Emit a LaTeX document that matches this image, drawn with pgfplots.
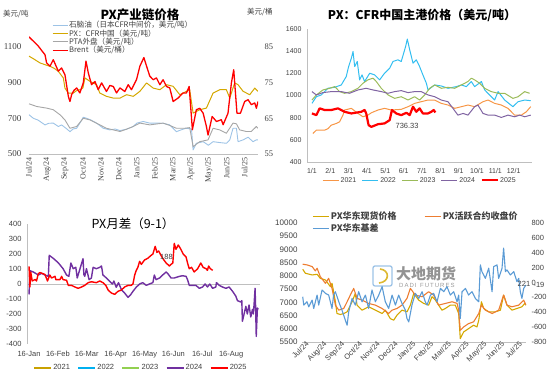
\documentclass[border=0pt]{standalone}
\usepackage{pgfplots}
\pgfplotsset{compat=1.18}
\usepackage{fontspec}
\setmainfont{Liberation Sans}
\newfontfamily\cjk{Noto Sans CJK SC}
\newfontfamily\lserif{Liberation Serif}
\definecolor{naph}{RGB}{157,195,230}
\definecolor{pxg}{RGB}{212,168,0}
\definecolor{pta}{RGB}{166,166,166}
\definecolor{c21}{RGB}{247,150,70}
\definecolor{c22}{RGB}{51,190,240}
\definecolor{c23}{RGB}{155,187,89}
\definecolor{c24}{RGB}{128,100,162}
\definecolor{d21}{RGB}{201,161,0}
\definecolor{d22}{RGB}{0,176,240}
\definecolor{d23}{RGB}{146,208,80}
\definecolor{d24}{RGB}{112,48,160}
\definecolor{spot}{RGB}{212,168,0}
\definecolor{fut}{RGB}{237,125,49}
\definecolor{basis}{RGB}{91,155,213}
\definecolor{axgray}{RGB}{191,191,191}
\definecolor{txt}{RGB}{64,64,64}
\pgfplotsset{
  every axis/.append style={scale only axis, anchor=south west},
  myax/.style={
    axis line style={axgray},
    /pgf/number format/assume math mode=true,
    /pgf/number format/1000 sep={},
    scaled ticks=false,
    major tick length=0pt,
    legend cell align=left,
    every axis plot/.append style={line join=round, mark=none},
    tick label style={text=txt},
  },
}
\begin{document}
\begin{tikzpicture}
\useasboundingbox (0pt,0pt) rectangle (550pt,382pt);
% ================= Panel 1 =================
\begin{axis}[myax, at={(29pt,228pt)}, width=229pt, height=125pt,
  xmin=0, xmax=12.74, ymin=500, ymax=1200,
  ytick={500,700,900,1100},
  xtick={0,...,12},
  xticklabels={Jul/24,Aug/24,Sep/24,Oct/24,Nov/24,Dec/24,Jan/25,Feb/25,Mar/25,Apr/25,May/25,Jun/25,Jul/25},
  xticklabel style={rotate=90,anchor=east,font=\lserif\fontsize{8}{8}\selectfont},
  yticklabel style={font=\lserif\fontsize{9}{9}\selectfont, xshift=-4pt},
  axis x line*=bottom, axis y line*=left, y axis line style={draw=none},
  legend image code/.code={\draw[#1] (0pt,0pt) -- (15pt,0pt);},
  legend style={at={(0.10,1.07)}, anchor=north west, draw=none, fill=none,
    font=\cjk\fontsize{7.6}{8}\selectfont, inner sep=0pt, row sep=-1.3pt,
    nodes={inner sep=0.8pt, text=txt}},
]
\addplot[naph, line width=0.9pt] coordinates {(0,720)(0.24,700)(0.5,690)(0.89,663)(1.1,672)(1.35,673)(1.63,654)(1.81,663)(2.06,644)(2.28,625)(2.45,640)(2.65,644)(2.83,673)(3.02,706)(3.2,700)(3.45,690)(3.76,673)(4.13,644)(4.5,635)(4.8,640)(5.06,631)(5.43,639)(5.8,654)(6.0,673)(6.35,682)(6.72,673)(7.09,673)(7.46,672)(7.83,663)(8.02,644)(8.2,625)(8.46,635)(8.72,644)(9.04,640)(9.13,523)(9.31,560)(9.69,569)(9.98,549)(10.24,569)(10.61,564)(10.98,560)(11.17,579)(11.35,644)(11.54,644)(11.63,569)(11.91,579)(12.19,594)(12.46,569)(12.65,579)(12.74,579)};
\addlegendentry{石脑油（日本CFR中间价，美元/吨）}
\addplot[pxg, line width=1pt] coordinates {(0,1048)(0.3,1030)(0.61,1010)(0.9,1000)(1.17,991)(1.4,980)(1.63,963)(1.91,926)(2.0,869)(2.19,841)(2.46,841)(2.65,855)(2.83,860)(3.0,870)(3.11,926)(3.39,907)(3.76,888)(3.94,841)(4.31,823)(4.69,813)(5.06,813)(5.43,832)(5.8,823)(6.17,851)(6.54,898)(6.91,869)(7.28,860)(7.65,888)(8.02,879)(8.39,832)(8.76,851)(8.94,860)(9.13,729)(9.5,748)(9.87,757)(10.24,841)(10.61,860)(10.98,860)(11.17,813)(11.44,898)(11.63,888)(11.91,851)(12.28,832)(12.56,869)(12.74,851)};
\addlegendentry{PX：CFR中国（美元/吨）}
\addplot[pta, line width=0.9pt] coordinates {(0,781)(0.43,766)(0.98,757)(1.35,748)(1.72,720)(2.0,691)(2.28,644)(2.65,654)(3.02,700)(3.39,691)(3.94,663)(4.31,644)(4.69,635)(5.06,626)(5.43,639)(5.8,654)(6.17,673)(6.72,663)(7.09,668)(7.46,673)(7.83,660)(8.2,644)(8.67,644)(8.94,648)(9.13,541)(9.5,569)(9.96,579)(10.24,644)(10.61,635)(10.98,616)(11.35,673)(11.54,669)(11.72,635)(12.09,626)(12.37,626)(12.65,654)(12.74,644)};
\addlegendentry{PTA外盘（美元/吨）}
\addlegendimage{red, line width=1.2pt}
\addlegendentry{Brent（美元/桶）}
\end{axis}
\begin{axis}[myax, at={(29pt,228pt)}, width=229pt, height=125pt,
  xmin=0, xmax=12.74, ymin=55, ymax=90,
  ytick={55,65,75,85},
  axis y line*=right, axis x line=none, y axis line style={draw=none},
  yticklabel style={font=\lserif\fontsize{8.5}{8.5}\selectfont, xshift=3pt},
]
\addplot[red, line width=1.3pt] coordinates {(0,87.8)(0.24,86.6)(0.52,85.2)(0.7,84.0)(0.89,82.8)(0.98,80.5)(1.17,79.6)(1.35,81.4)(1.63,78.2)(1.81,79.1)(2.0,77.2)(2.19,71.1)(2.28,69.7)(2.37,71.6)(2.5,72.8)(2.65,73.5)(2.83,72.1)(3.02,74.9)(3.17,81.0)(3.3,77.7)(3.48,74.4)(3.67,75.3)(3.85,73.0)(4.04,74.9)(4.31,72.5)(4.5,74.2)(4.69,73.9)(4.87,72.1)(5.06,73.5)(5.33,72.5)(5.52,74.4)(5.7,73.0)(5.98,75.8)(6.17,79.6)(6.39,82.0)(6.54,79.6)(6.72,76.8)(6.91,75.8)(7.09,76.3)(7.28,74.4)(7.46,75.8)(7.65,73.9)(7.83,73.5)(8.02,69.7)(8.3,70.7)(8.57,72.1)(8.76,72.1)(8.91,73.9)(9.09,61.8)(9.31,67.4)(9.5,67.8)(9.69,66.4)(9.87,62.7)(9.96,60.3)(10.19,65.5)(10.43,64.1)(10.7,64.6)(10.8,63.2)(11.07,66.4)(11.26,74.9)(11.39,78.6)(11.57,66.4)(11.76,66.4)(12.0,69.7)(12.19,70.2)(12.37,68.8)(12.56,69.3)(12.65,67.8)(12.74,69.7)};
\node[anchor=west, font=\lserif\fontsize{8.5}{8.5}\selectfont, text=txt, inner sep=0pt] at (axis cs:12.74,69.4) [xshift=4pt] {69.6};
\end{axis}
\node[font=\cjk\bfseries\fontsize{12.5}{12.5}\selectfont, text=black] at (140pt,367pt) {PX产业链价格};
\node[anchor=west, font=\cjk\fontsize{7.5}{7.5}\selectfont, text=txt, inner sep=0pt] at (3pt,368pt) {美元/吨};
\node[anchor=west, font=\cjk\fontsize{7.5}{7.5}\selectfont, text=txt, inner sep=0pt] at (247pt,370pt) {美元/桶};
% ================= Panel 2 =================
\begin{axis}[myax, at={(307pt,220pt)}, width=225pt, height=133pt,
  xmin=-0.27, xmax=12, ymin=400, ymax=1600,
  ytick={400,600,...,1600},
  xtick={0,...,11},
  xticklabels={1/1,2/1,3/1,4/1,5/1,6/1,7/1,8/1,9/1,10/1,11/1,12/1},
  xticklabel style={font=\fontsize{7}{7}\selectfont, yshift=-3pt},
  yticklabel style={font=\fontsize{7}{7}\selectfont, xshift=-2pt},
  axis x line*=bottom, axis y line*=left,
  legend columns=5,
  legend image code/.code={\draw[#1] (0pt,0pt) -- (16pt,0pt);},
  legend style={at={(0.0667,-0.138)}, anchor=west, draw=none, fill=none,
    font=\fontsize{7}{7}\selectfont, inner sep=0pt,
    nodes={inner sep=1.5pt, text=txt},
    /tikz/every even column/.append style={column sep=4pt}},
]
\addplot[c21, line width=1pt] coordinates {(0.05,657)(0.24,687)(0.69,687)(0.87,700)(1.05,732)(1.33,748)(1.51,763)(1.69,823)(1.78,869)(2.15,884)(2.51,838)(2.78,808)(3.05,823)(3.24,844)(3.6,869)(3.96,884)(4.33,869)(4.87,875)(5.24,899)(5.6,929)(5.96,944)(6.33,959)(6.69,959)(7.05,929)(7.42,914)(7.78,884)(8.15,899)(8.51,914)(8.87,899)(9.33,944)(9.6,959)(9.96,929)(10.33,914)(10.69,884)(11.05,823)(11.42,823)(11.69,853)(11.93,899)};
\addlegendentry{2021}
\addplot[c22, line width=1pt] coordinates {(0,929)(0.24,989)(0.51,1005)(0.87,1065)(1.24,1074)(1.6,1095)(1.87,1171)(2.0,1261)(2.15,1337)(2.24,1397)(2.33,1261)(2.47,1307)(2.6,1141)(2.73,1186)(2.87,1126)(3.15,1201)(3.42,1186)(3.69,1141)(3.96,1201)(4.24,1246)(4.42,1307)(4.69,1322)(4.87,1307)(5.11,1443)(5.2,1509)(5.33,1413)(5.51,1292)(5.69,1322)(5.87,1261)(6.05,1186)(6.24,1110)(6.33,1050)(6.69,1095)(7.05,1086)(7.42,1065)(7.87,1080)(8.15,1095)(8.42,1080)(8.69,1126)(8.87,1080)(9.24,1126)(9.42,1050)(9.78,989)(9.96,959)(10.15,1035)(10.51,959)(10.96,899)(11.24,944)(11.6,959)(11.93,953)};
\addlegendentry{2022}
\addplot[c23, line width=1pt] coordinates {(0,959)(0.24,1005)(0.6,1050)(0.96,1065)(1.24,1080)(1.51,1035)(1.78,1020)(2.15,1035)(2.51,1065)(2.78,1110)(3.05,1141)(3.33,1156)(3.51,1126)(3.78,1065)(4.15,1005)(4.51,974)(4.87,989)(5.24,959)(5.6,989)(5.87,959)(6.15,1005)(6.42,1065)(6.69,1095)(7.05,1065)(7.42,1074)(7.78,1065)(8.15,1095)(8.51,1126)(8.69,1156)(8.87,1141)(9.15,1110)(9.42,1065)(9.78,1035)(10.15,1020)(10.51,1020)(10.96,974)(11.24,989)(11.6,1035)(11.87,1020)};
\addlegendentry{2023}
\addplot[c24, line width=1pt] coordinates {(0,1035)(0.24,1005)(0.6,1026)(1.05,1035)(1.6,1035)(2.05,1020)(2.51,1050)(2.96,1065)(3.33,1050)(3.78,1035)(4.15,1020)(4.51,1035)(4.87,1044)(5.24,1026)(5.6,1035)(5.96,1035)(6.33,1005)(6.69,989)(7.05,959)(7.42,944)(7.69,884)(7.96,823)(8.24,838)(8.51,823)(8.87,899)(9.05,914)(9.33,838)(9.6,823)(9.96,823)(10.33,802)(10.69,823)(11.05,808)(11.33,823)(11.6,808)(11.93,823)};
\addlegendentry{2024}
\addplot[red, line width=2.2pt] coordinates {(0,838)(0.24,823)(0.42,884)(0.69,869)(1.05,869)(1.42,884)(1.78,853)(2.15,838)(2.69,853)(2.87,869)(2.96,838)(3.09,732)(3.24,717)(3.6,741)(3.96,748)(4.24,778)(4.36,869)(4.6,838)(4.87,823)(5.15,844)(5.33,823)(5.51,899)(5.69,853)(5.87,884)(6.05,838)(6.33,838)(6.51,853)(6.64,869)(6.73,847)};
\addlegendentry{2025}
\node[font=\fontsize{7.5}{7.5}\selectfont, text=txt] at (axis cs:5.19,725) {736.33};
\end{axis}
\node[font=\cjk\bfseries\fontsize{12}{12}\selectfont, text=black] at (422pt,367pt) {PX：CFR中国主港价格（美元/吨）};
% ================= Panel 3 =================
\begin{axis}[myax, at={(27pt,38pt)}, width=233pt, height=120pt,
  xmin=-0.07, xmax=8, ymin=-400, ymax=400,
  ytick={-400,-300,...,400},
  xtick={0,...,7},
  xticklabels={16-Jan,16-Feb,16-Mar,16-Apr,16-May,16-Jun,16-Jul,16-Aug},
  xticklabel style={font=\fontsize{7.5}{7.5}\selectfont, yshift=-4pt},
  yticklabel style={font=\fontsize{7.5}{7.5}\selectfont, xshift=-2pt},
  axis x line*=bottom, axis y line*=left, x axis line style={draw=none},
  legend columns=5,
  legend image code/.code={\draw[#1] (0pt,0pt) -- (17pt,0pt);},
  legend style={at={(0.026,-0.20)}, anchor=west, draw=none, fill=none,
    font=\fontsize{7.5}{7.5}\selectfont, inner sep=0pt,
    nodes={inner sep=1.5pt, text=txt},
    /tikz/every even column/.append style={column sep=6pt}},
]
\draw[axgray] (axis cs:-0.07,0) -- (axis cs:8,0);
\addlegendimage{d21, line width=1.5pt}
\addlegendentry{2021}
\addlegendimage{d22, line width=1.5pt}
\addlegendentry{2022}
\addlegendimage{d23, line width=1.5pt}
\addlegendentry{2023}
\addplot[d24, line width=1.4pt] coordinates {(0,-70)(0.03,89)(0.15,80)(0.32,60)(0.44,71)(0.55,60)(0.67,51)(0.7,191)(0.84,171)(1.01,142)(1.18,102)(1.3,60)(1.38,51)(1.45,140)(1.53,102)(1.62,111)(1.67,40)(1.87,169)(1.9,62)(1.93,51)(1.99,102)(2.08,29)(2.16,40)(2.22,111)(2.33,102)(2.45,111)(2.51,120)(2.56,60)(2.68,40)(2.79,18)(2.89,0)(2.94,20)(3.02,-22)(3.1,9)(3.2,-38)(3.31,-60)(3.43,-89)(3.52,-71)(3.6,-49)(3.71,-22)(3.83,0)(3.94,9)(4.06,-9)(4.17,0)(4.29,9)(4.34,60)(4.4,29)(4.52,40)(4.63,60)(4.75,80)(4.8,71)(4.92,40)(5.03,40)(5.21,51)(5.32,55)(5.44,51)(5.49,29)(5.55,-9)(5.78,-9)(5.9,-29)(6.01,-20)(6.1,0)(6.18,-20)(6.26,0)(6.36,-29)(6.47,-20)(6.49,9)(6.59,-9)(6.7,-20)(6.82,-29)(6.93,-20)(7.05,-49)(7.16,-80)(7.22,-111)(7.33,-120)(7.37,-111)(7.39,-249)(7.51,-149)(7.56,-200)(7.62,-140)(7.68,-220)(7.74,-169)(7.77,-200)(7.79,-149)(7.83,-29)(7.85,-169)(7.87,-349)(7.91,-160)(7.94,-169)};
\addlegendentry{2024}
\addplot[red, line width=1.4pt] coordinates {(0,118)(0.03,-20)(0.06,80)(0.11,20)(0.21,30)(0.26,20)(0.32,69)(0.38,76)(0.55,64)(0.64,20)(0.72,60)(0.78,40)(0.9,51)(0.93,29)(1.07,29)(1.13,51)(1.18,29)(1.3,25)(1.36,-9)(1.47,-9)(1.59,-20)(1.7,-29)(1.82,-20)(1.93,-9)(2.05,9)(2.16,15)(2.33,9)(2.45,20)(2.56,9)(2.66,-9)(2.74,-40)(2.85,-60)(2.97,-69)(3.08,-49)(3.2,-40)(3.31,-20)(3.43,-9)(3.54,-9)(3.6,0)(3.66,60)(3.71,89)(3.77,111)(3.83,151)(3.89,131)(4.0,160)(4.11,171)(4.23,191)(4.29,200)(4.37,251)(4.43,211)(4.49,220)(4.57,191)(4.63,171)(4.75,140)(4.8,131)(4.86,120)(4.92,131)(4.98,140)(5.03,271)(5.09,231)(5.17,260)(5.26,231)(5.34,200)(5.44,180)(5.49,140)(5.55,102)(5.63,111)(5.72,80)(5.84,102)(5.95,140)(6.03,111)(6.13,102)(6.18,91)(6.22,120)(6.28,102)(6.36,91)};
\addlegendentry{2025}
\node[font=\fontsize{7.5}{7.5}\selectfont, text=txt] at (axis cs:4.76,180) {188};
\end{axis}
\node[font=\cjk\fontsize{12.5}{12.5}\selectfont, text=black] at (133pt,158pt) {PX月差（9-1）};
% ================= Panel 4 =================
% watermark
\draw[basis!60, line width=1.3pt, rounded corners=2pt] (373pt,96pt) rectangle (392pt,116pt);
\draw[pxg!80, line width=1.6pt] (379pt,99pt) .. controls (390pt,100pt) and (390pt,112pt) .. (380pt,113pt);
\node[anchor=west, font=\cjk\bfseries\fontsize{15}{15}\selectfont, text=gray!85, inner sep=0pt] at (396pt,108pt) {大地期货};
\node[anchor=west, font=\fontsize{6}{6}\selectfont, text=gray!80, inner sep=0pt] at (399pt,97pt) {D\,A\,D\,I\, \,F\,U\,T\,U\,R\,E\,S};
\begin{axis}[myax, at={(302pt,40pt)}, width=224pt, height=119pt,
  xmin=-0.04, xmax=12.57, ymin=5500, ymax=10000,
  ytick={5500,6000,...,10000},
  xtick={0,...,12},
  xticklabels={Jul/24,Aug/24,Sep/24,Oct/24,Nov/24,Dec/24,Jan/25,Feb/25,Mar/25,Apr/25,May/25,Jun/25,Jul/25},
  xticklabel style={rotate=45,anchor=north east,font=\fontsize{7.5}{7.5}\selectfont, xshift=4pt, inner sep=1pt},
  yticklabel style={font=\fontsize{8}{8}\selectfont, xshift=-1pt},
  axis x line*=bottom, axis y line*=left, y axis line style={draw=none},
  legend columns=2,
  legend image code/.code={\draw[#1] (0pt,0pt) -- (16pt,0pt);},
  legend style={at={(0.045,1.109)}, anchor=north west, draw=none, fill=none,
    font=\cjk\bfseries\fontsize{9}{9}\selectfont, inner sep=0pt,
    nodes={inner sep=1.5pt, text=txt},
    /tikz/every even column/.append style={column sep=26pt}},
]
\addplot[spot, line width=1.1pt] coordinates {(0,8251)(0.15,8100)(0.53,8035)(0.81,8060)(0.99,7908)(1.28,7845)(1.56,7592)(1.65,7718)(1.74,7401)(1.84,7021)(1.93,6577)(2.12,6540)(2.31,6577)(2.5,6641)(2.78,7021)(2.96,7338)(3.06,6894)(3.34,6704)(3.71,6831)(4.09,6704)(4.47,6577)(4.65,6704)(4.93,6387)(5.12,6324)(5.31,6514)(5.59,6704)(5.87,6641)(6.06,6894)(6.25,7338)(6.53,7084)(6.81,6958)(7.09,6894)(7.28,7211)(7.47,7084)(7.65,6894)(7.84,6704)(8.03,6768)(8.31,6894)(8.59,6894)(8.78,6577)(8.87,5627)(9.06,5880)(9.34,6007)(9.62,6134)(9.81,6070)(9.91,6324)(10.06,7021)(10.19,6768)(10.47,6641)(10.84,6641)(11.13,6704)(11.31,7275)(11.5,6894)(11.78,6704)(12.06,6768)(12.34,6831)(12.5,6958)(12.57,6894)};
\addlegendentry{PX华东现货价格}
\addplot[fut, line width=1.1pt] coordinates {(0,8441)(0.24,8416)(0.53,8352)(0.71,8190)(0.81,8289)(0.99,7972)(1.28,7718)(1.46,7908)(1.65,7528)(1.84,6894)(2.03,6704)(2.31,6768)(2.5,7021)(2.68,7275)(2.87,7528)(3.06,7148)(3.34,7084)(3.71,6958)(4.09,6894)(4.47,6768)(4.84,6577)(5.03,6704)(5.31,6768)(5.59,6894)(5.87,7148)(6.06,7528)(6.34,7275)(6.72,7211)(7.09,7401)(7.37,7275)(7.65,6894)(8.03,6958)(8.41,7021)(8.69,6958)(8.78,6704)(8.87,5944)(9.06,6070)(9.34,6197)(9.62,6261)(9.91,6577)(10.06,6894)(10.28,6704)(10.66,6577)(11.03,6704)(11.31,7275)(11.5,6894)(11.78,6831)(12.16,6894)(12.44,7084)(12.57,6894)};
\addlegendentry{PX活跃合约收盘价}
\addlegendimage{basis, line width=1.1pt}
\addlegendentry{PX华东基差}
\end{axis}
\begin{axis}[myax, at={(302pt,40pt)}, width=224pt, height=119pt,
  xmin=-0.04, xmax=12.57, ymin=-800, ymax=800,
  ytick={-800,-600,...,800},
  axis y line*=right, axis x line=none, y axis line style={draw=none},
  yticklabel style={font=\fontsize{7.5}{7.5}\selectfont, xshift=2pt},
]
\addplot[basis, line width=1.1pt] coordinates {(0,-192)(0.06,-304)(0.24,-259)(0.34,-327)(0.53,-237)(0.62,-349)(0.81,-169)(0.9,-304)(1.09,-101)(1.28,-146)(1.46,-169)(1.65,-349)(1.74,-169)(1.84,-124)(2.03,-259)(2.21,-372)(2.4,-507)(2.5,-575)(2.59,-394)(2.78,-214)(2.96,-304)(3.15,-124)(3.34,-259)(3.53,-169)(3.71,-349)(3.9,-101)(4.09,-259)(4.28,-169)(4.47,-56)(4.65,-259)(4.84,-349)(5.03,-169)(5.22,-304)(5.4,-169)(5.59,-282)(5.78,-372)(5.87,-484)(5.97,-530)(6.15,-304)(6.34,-146)(6.53,-214)(6.72,-124)(6.9,-259)(7.0,-304)(7.19,-169)(7.37,-146)(7.56,-259)(7.75,-79)(7.94,-124)(8.12,-56)(8.31,-169)(8.5,-124)(8.69,-259)(8.78,-169)(8.87,-484)(8.97,-124)(9.16,-79)(9.34,-169)(9.53,-124)(9.72,-214)(9.91,-259)(10.0,237)(10.09,146)(10.28,56)(10.47,192)(10.66,-124)(10.75,214)(10.94,237)(11.03,56)(11.22,192)(11.31,462)(11.41,146)(11.5,169)(11.69,101)(11.88,146)(12.06,11)(12.16,56)(12.25,-124)(12.34,-214)(12.44,-79)(12.57,-34)};
\end{axis}
\node[font=\fontsize{7.5}{7.5}\selectfont, text=txt, inner sep=0pt] at (524pt,98pt) {221};
\node[font=\fontsize{7.5}{7.5}\selectfont, text=txt, inner sep=0pt] at (539pt,97pt) {-19};
\end{tikzpicture}
\end{document}
